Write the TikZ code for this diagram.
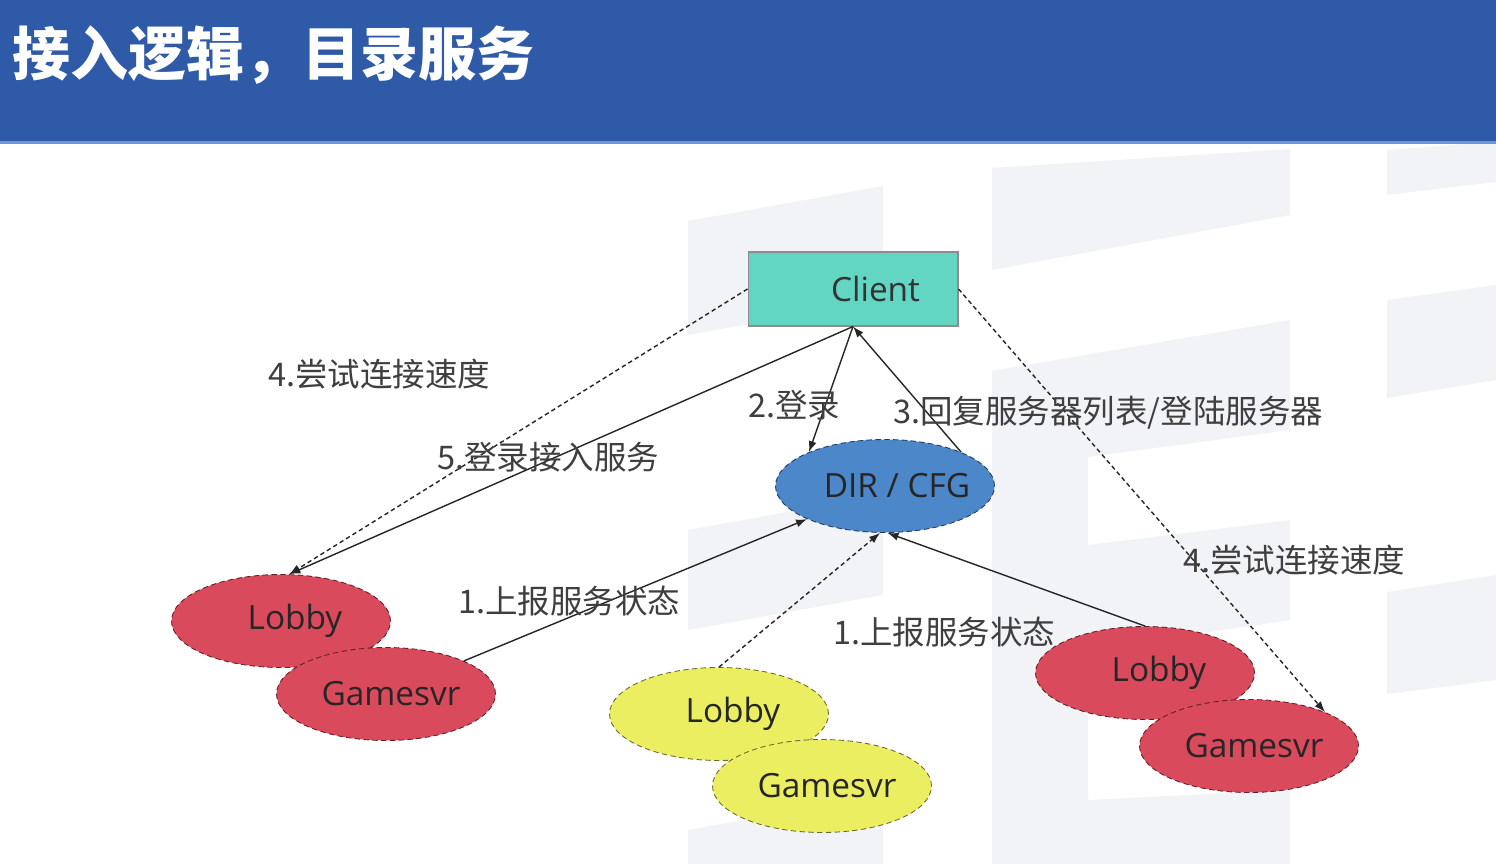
\documentclass[tikz,border=0pt]{standalone}
\usepackage{fontspec}
\setmainfont{Open Sans}
\newfontfamily\cjk{Noto Sans CJK SC}
\usetikzlibrary{arrows.meta, shapes.geometric}

\definecolor{barblue}{HTML}{2E5AA8}
\definecolor{barline}{HTML}{6F97D8}
\definecolor{wmgray}{HTML}{F1F3F6}
\definecolor{clientfill}{HTML}{62D5C3}
\definecolor{dirfill}{HTML}{4C87C9}
\definecolor{lobbyred}{HTML}{D84A5C}
\definecolor{idleyellow}{HTML}{ECEE62}
\definecolor{labelgray}{HTML}{3F3F3F}

% move a node text sideways without changing the node size
\newcommand\nudge[2]{\hspace*{#1}#2\hspace*{-#1}}

\begin{document}
\begin{tikzpicture}[x=0.02cm, y=-0.02cm,
    srvnode/.style={ellipse, draw=#1!45!black, densely dashed, line width=0.5pt, fill=#1,
      minimum width=4.38cm, minimum height=1.86cm, inner sep=0pt,
      font=\fontsize{19}{22}\selectfont, text=black!85},
    stepnote/.style={anchor=west, inner sep=0pt, text=labelgray, font=\cjk\fontsize{18.5}{22}\selectfont},
    flow/.style={-{Latex[length=2.2mm,width=1.6mm]}, line width=0.8pt, draw=black!85},
    probe/.style={flow, dash pattern=on 2.5pt off 1.8pt}
  ]
  % page and faint background marks
  \fill[white] (0,0) rectangle (1496,864);
  \useasboundingbox (0,0) rectangle (1496,864);
  \fill[wmgray] (688,221) -- (883,186) -- (883,300) -- (688,335) -- cycle;
  \fill[wmgray] (688,530) -- (883,495) -- (883,595) -- (688,630) -- cycle;
  \fill[wmgray] (688,830) -- (883,795) -- (883,864) -- (688,864) -- cycle;
  \fill[wmgray] (992,168) -- (1290,149) -- (1290,215) -- (992,270) -- cycle;
  \fill[wmgray] (992,371) -- (1290,320) -- (1290,430) -- (992,470) -- cycle;
  \fill[wmgray] (992,371) -- (1088,356) -- (1088,864) -- (992,864) -- cycle;
  \fill[wmgray] (1088,545) -- (1290,520) -- (1290,620) -- (1088,650) -- cycle;
  \fill[wmgray] (1088,800) -- (1290,790) -- (1290,864) -- (1088,864) -- cycle;
  \fill[wmgray] (1387,150) -- (1496,142) -- (1496,182) -- (1387,195) -- cycle;
  \fill[wmgray] (1387,300) -- (1496,285) -- (1496,380) -- (1387,398) -- cycle;
  \fill[wmgray] (1387,592) -- (1496,575) -- (1496,680) -- (1387,694) -- cycle;

  % title bar
  \fill[barblue] (0,0) rectangle (1496,141);
  \fill[barline] (0,141) rectangle (1496,144);
  \node[anchor=west, inner sep=0pt, text=white, font=\cjk\bfseries\fontsize{33}{36}\selectfont] (title) at (12,55) {接入逻辑，目录服务};

  % servers
  \node[rectangle, draw=black!45, fill=clientfill, line width=0.6pt, minimum height=1.48cm,
    text width=2.68cm, inner xsep=0.76cm, align=right, font=\fontsize{19}{22}\selectfont, text=black!80] (client) at (853,289) {Client};
  \node[srvnode=dirfill] (dir) at (885,486) {\nudge{0.24cm}{DIR / CFG}};

  \node[srvnode=lobbyred] (lobbyL) at (281,621) {\nudge{0.28cm}{Lobby}};
  \node[srvnode=lobbyred] (gsL) at (386,694) {\nudge{0.1cm}{Gamesvr}};
  \node[srvnode=idleyellow] (lobbyY) at (719,714) {\nudge{0.28cm}{Lobby}};
  \node[srvnode=idleyellow] (gsY) at (822,786) {\nudge{0.1cm}{Gamesvr}};
  \node[srvnode=lobbyred] (lobbyR) at (1145,673) {\nudge{0.28cm}{Lobby}};
  \node[srvnode=lobbyred] (gsR) at (1249,746) {\nudge{0.1cm}{Gamesvr}};

  % connectors
  \draw[probe] (client.west) -- (lobbyL.80);
  \draw[flow] (client.south) -- (lobbyL.80);
  \draw[flow] (client.south) -- (dir.156);
  \draw[flow] (dir.24) -- (client.south);
  \draw[probe] (client.east) -- (gsR.24);
  \draw[flow] (gsL.23) -- (dir.203);
  \draw[probe] (lobbyY.north) -- (dir.264);
  \draw[flow] (lobbyR.north) -- (dir.273);

  % step labels
  \node[stepnote] (try1) at (268,374) {4.尝试连接速度};
  \node[stepnote] (enter) at (437,457) {5.登录接入服务};
  \node[stepnote] (login) at (748,405) {2.登录};
  \node[stepnote] (reply) at (893,413) {3.回复服务器列表/登陆服务器};
  \node[stepnote] (try2) at (1183,560) {4.尝试连接速度};
  \node[stepnote] (report1) at (458,601) {1.上报服务状态};
  \node[stepnote] (report2) at (833,632) {1.上报服务状态};
\end{tikzpicture}
\end{document}
